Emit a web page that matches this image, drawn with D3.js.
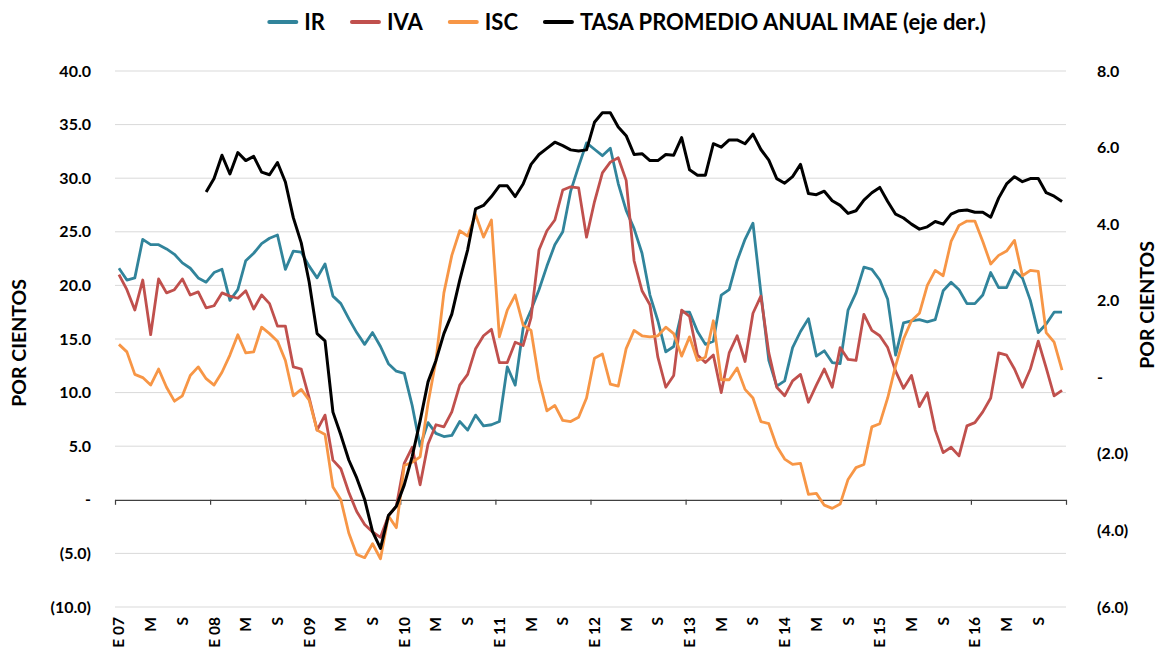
<!DOCTYPE html>
<html>
<head>
<meta charset="utf-8">
<script src="https://cdn.jsdelivr.net/npm/d3@7"></script>
<style>
  body { margin: 0; background: #ffffff; }
  svg text { font-family: Lato, "Open Sans", sans-serif; font-weight: 700; }
</style>
</head>
<body>
<svg width="1161" height="658"></svg>
<script>
// monthly data, Jan 2007 - Dec 2016
const years = ["07", "08", "09", "10", "11", "12", "13", "14", "15", "16"];
const monthInitials = ["E", "F", "M", "A", "M", "J", "J", "A", "S", "O", "N", "D"];
const labelledMonths = [0, 4, 8];
const leftTicks = [-10, -5, 0, 5, 10, 15, 20, 25, 30, 35, 40];
const rightTicks = [-6, -4, -2, 0, 2, 4, 6, 8];
const seriesNames = ["IR", "IVA", "ISC", "TASA PROMEDIO ANUAL IMAE (eje der.)"];

const ir = [
  21.6, 20.5, 20.7, 24.3, 23.8, 23.8, 23.4, 22.9, 22.1, 21.6, 20.7, 20.3,
  21.2, 21.5, 18.6, 19.6, 22.3, 23.0, 23.9, 24.4, 24.7, 21.5, 23.2, 23.1,
  21.8, 20.7, 22.0, 19.0, 18.3, 16.9, 15.6, 14.5, 15.6, 14.3, 12.7, 12.0,
  11.8, 8.8, 5.0, 7.2, 6.2, 5.9, 6.0, 7.3, 6.5, 7.9, 6.9, 7.0,
  7.3, 12.4, 10.7, 16.0, 17.7, 19.6, 21.8, 23.8, 25.0, 28.8, 31.1, 33.3,
  32.7, 32.1, 32.8, 29.5, 27.0, 25.3, 23.0, 19.1, 16.7, 13.8, 14.3, 17.5,
  17.5, 15.7, 14.5, 14.8, 19.1, 19.6, 22.3, 24.3, 25.8, 19.3, 13.0, 10.6,
  11.1, 14.2, 15.7, 16.9, 13.4, 13.9, 12.8, 12.7, 17.7, 19.3, 21.7, 21.5,
  20.5, 18.7, 13.5, 16.5, 16.7, 16.8, 16.6, 16.8, 19.5, 20.3, 19.6, 18.3,
  18.3, 19.1, 21.2, 19.8, 19.8, 21.4, 20.7, 18.6, 15.6, 16.4, 17.5, 17.5
];

const iva = [
  21.0, 19.6, 17.7, 20.5, 15.4, 20.6, 19.3, 19.6, 20.6, 19.1, 19.4, 17.9,
  18.1, 19.3, 19.0, 18.8, 19.5, 17.8, 19.1, 18.3, 16.2, 16.2, 12.4, 12.2,
  9.5, 6.5, 7.9, 3.7, 2.9, 0.7, -1.1, -2.3, -3.0, -3.5, -1.5, -0.6,
  3.4, 4.9, 1.4, 5.2, 7.0, 6.8, 8.2, 10.7, 11.7, 14.1, 15.3, 15.9,
  12.8, 12.8, 14.7, 14.4, 17.0, 23.3, 25.1, 26.1, 28.9, 29.2, 29.1, 24.5,
  27.8, 30.5, 31.5, 31.9, 29.8, 22.3, 19.5, 18.2, 13.3, 10.5, 11.6, 17.7,
  17.1, 13.5, 12.8, 13.5, 10.0, 13.7, 15.3, 12.9, 17.4, 19.0, 13.7, 10.5,
  9.7, 11.1, 11.7, 9.1, 10.7, 12.2, 10.5, 14.2, 13.1, 13.0, 17.3, 15.8,
  15.3, 14.2, 12.0, 10.4, 11.6, 8.7, 10.0, 6.5, 4.4, 4.9, 4.1, 6.9,
  7.2, 8.2, 9.5, 13.7, 13.5, 12.2, 10.5, 12.2, 14.8, 12.3, 9.7, 10.2
];

const isc = [
  14.5, 13.8, 11.7, 11.4, 10.7, 12.2, 10.5, 9.2, 9.7, 11.6, 12.4, 11.3,
  10.7, 11.9, 13.5, 15.4, 13.7, 13.8, 16.1, 15.5, 14.8, 13.0, 9.7, 10.3,
  9.3, 6.5, 6.1, 1.2, 0.0, -3.1, -5.1, -5.4, -4.1, -5.5, -1.5, -2.6,
  3.2, 3.5, 4.0, 9.0, 13.0, 19.3, 22.8, 25.1, 24.6, 26.6, 24.5, 26.1,
  15.2, 17.7, 19.1, 16.3, 15.8, 11.2, 8.3, 8.8, 7.4, 7.3, 7.7, 9.5,
  13.2, 13.6, 10.8, 10.6, 14.1, 15.8, 15.3, 15.2, 15.3, 16.1, 15.5, 13.4,
  15.2, 13.0, 13.3, 16.7, 11.2, 11.2, 12.3, 10.3, 9.5, 7.3, 7.1, 5.0,
  3.8, 3.3, 3.4, 0.5, 0.6, -0.5, -0.8, -0.4, 1.9, 3.0, 3.3, 6.8,
  7.1, 9.5, 12.5, 15.0, 16.7, 17.4, 20.0, 21.4, 20.9, 24.1, 25.6, 26.0,
  26.0, 24.1, 22.0, 22.8, 23.2, 24.2, 20.9, 21.4, 21.3, 15.6, 14.7, 12.1
];

// right axis; the annual average starts in December 2007
const imae = [
  null, null, null, null, null, null, null, null, null, null, null, 4.84,
  5.19, 5.80, 5.31, 5.87, 5.66, 5.77, 5.36, 5.29, 5.61, 5.10, 4.17, 3.51,
  2.49, 1.14, 0.95, -0.91, -1.51, -2.16, -2.63, -3.19, -4.03, -4.47, -3.61, -3.37,
  -2.81, -2.07, -1.14, -0.12, 0.44, 1.14, 1.65, 2.54, 3.33, 4.40, 4.49, 4.72,
  5.00, 5.00, 4.72, 5.05, 5.56, 5.82, 5.98, 6.14, 6.05, 5.94, 5.91, 5.94,
  6.66, 6.91, 6.91, 6.54, 6.31, 5.82, 5.84, 5.66, 5.66, 5.82, 5.80, 6.26,
  5.42, 5.28, 5.28, 6.10, 6.01, 6.20, 6.20, 6.10, 6.35, 5.95, 5.67, 5.19,
  5.07, 5.24, 5.56, 4.80, 4.77, 4.86, 4.61, 4.49, 4.28, 4.35, 4.63, 4.82,
  4.96, 4.59, 4.26, 4.16, 4.00, 3.87, 3.93, 4.07, 4.00, 4.26, 4.35, 4.37,
  4.31, 4.31, 4.18, 4.68, 5.05, 5.24, 5.11, 5.19, 5.19, 4.82, 4.73, 4.59
];

const colors = ["#31849b", "#c0504d", "#f79646", "#000000"];

function draw() {
  const svg = d3.select("svg");

  const left = 115;
  const right = 1066;
  const top = 71;
  const bottom = 607;

  const months = years.flatMap(y => monthInitials.map(m => m + " " + y));

  const x = d3.scaleBand().domain(d3.range(months.length)).range([left, right]);
  const xEdge = d3.scaleLinear().domain([0, months.length]).range([left, right]);
  const yL = d3.scaleLinear().domain([-10, 40]).range([bottom, top]);
  const yR = d3.scaleLinear().domain([-6, 8]).range([bottom, top]);

  const f1 = d3.format(".1f");
  const fmt = v => (v === 0 ? "-" : v < 0 ? "(" + f1(-v) + ")" : f1(v));

  // gridlines
  svg
    .append("g")
    .selectAll("line")
    .data(leftTicks.filter(v => v !== 0))
    .join("line")
    .attr("x1", left)
    .attr("x2", right)
    .attr("y1", d => yL(d))
    .attr("y2", d => yL(d))
    .attr("stroke", "#d9d9d9")
    .attr("stroke-width", 1);

  // left axis
  const axL = svg
    .append("g")
    .attr("transform", `translate(${left},0)`)
    .call(d3.axisLeft(yL).tickValues(leftTicks).tickFormat(fmt).tickSize(0).tickPadding(24));
  axL.select(".domain").remove();
  axL.attr("font-family", null).attr("font-size", 16);
  axL.selectAll("text").attr("fill", "#000");

  // right axis
  const axR = svg
    .append("g")
    .attr("transform", `translate(${right},0)`)
    .call(d3.axisRight(yR).tickValues(rightTicks).tickFormat(fmt).tickSize(0).tickPadding(31));
  axR.select(".domain").remove();
  axR.attr("font-family", null).attr("font-size", 16);
  axR.selectAll("text").attr("fill", "#000");

  // zero line with yearly ticks
  const axZero = svg
    .append("g")
    .attr("transform", `translate(0,${yL(0)})`)
    .call(
      d3.axisBottom(xEdge)
        .tickValues(d3.range(0, months.length + 1, 12))
        .tickFormat("")
        .tickSize(5)
        .tickSizeOuter(0)
    );
  axZero.selectAll("path, line").attr("stroke", "#404040").attr("stroke-width", 1.2);

  // month labels under the plot
  const axX = svg
    .append("g")
    .attr("transform", `translate(0,${bottom})`)
    .call(
      d3.axisBottom(x)
        .tickValues(d3.range(months.length).filter(i => labelledMonths.includes(i % 12)))
        .tickFormat(i => (i % 12 === 0 ? months[i] : monthInitials[i % 12]))
        .tickSize(0)
    );
  axX.select(".domain").remove();
  axX.attr("font-family", null).attr("font-size", 15.5);
  axX
    .selectAll("text")
    .attr("fill", "#000")
    .attr("transform", "rotate(-90)")
    .attr("text-anchor", "end")
    .attr("x", -10)
    .attr("y", 0)
    .attr("dy", "0.35em");

  // series
  const cx = i => x(i) + x.bandwidth() / 2;
  const lineL = d3.line().x((d, i) => cx(i)).y(d => yL(d));
  const lineR = d3
    .line()
    .defined(d => d !== null)
    .x((d, i) => cx(i))
    .y(d => yR(d));

  [ir, iva, isc].forEach((values, k) => {
    svg
      .append("path")
      .attr("d", lineL(values))
      .attr("fill", "none")
      .attr("stroke", colors[k])
      .attr("stroke-width", 2.8)
      .attr("stroke-linejoin", "round");
  });

  svg
    .append("path")
    .attr("d", lineR(imae))
    .attr("fill", "none")
    .attr("stroke", colors[3])
    .attr("stroke-width", 3)
    .attr("stroke-linejoin", "round");

  // axis titles
  svg
    .append("text")
    .attr("transform", `translate(26,343) rotate(-90)`)
    .attr("text-anchor", "middle")
    .attr("font-size", 19.5)
    .text("POR CIENTOS");

  svg
    .append("text")
    .attr("transform", `translate(1154,305) rotate(-90)`)
    .attr("text-anchor", "middle")
    .attr("font-size", 19.5)
    .text("POR CIENTOS");

  // legend
  const legend = svg.append("g");
  let lx = 0;
  seriesNames.forEach((name, k) => {
    const item = legend.append("g").attr("transform", `translate(${lx},0)`);
    item
      .append("line")
      .attr("x1", 2)
      .attr("x2", 29)
      .attr("y1", 22)
      .attr("y2", 22)
      .attr("stroke", colors[k])
      .attr("stroke-width", 4)
      .attr("stroke-linecap", "round");
    const t = item
      .append("text")
      .attr("x", 37)
      .attr("y", 22)
      .attr("dy", "0.35em")
      .attr("font-size", 22)
      .text(name);
    lx += 37 + t.node().getComputedTextLength() + 25;
  });
  const legendWidth = lx - 25;
  legend.attr("transform", `translate(${(268 + 985) / 2 - legendWidth / 2},0)`);
}

window.onload = draw;
</script>
</body>
</html>
